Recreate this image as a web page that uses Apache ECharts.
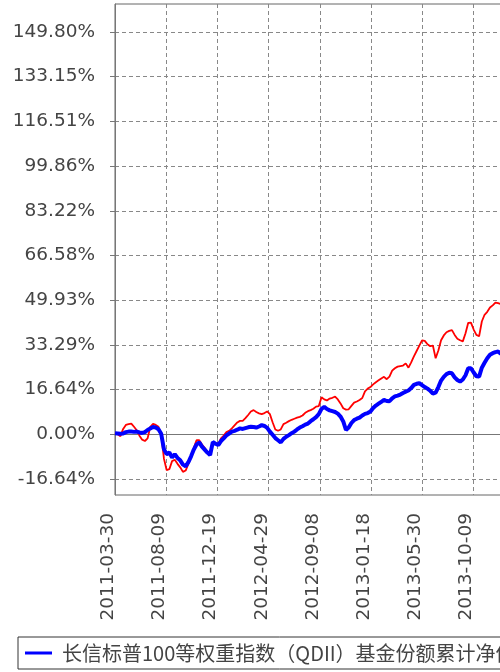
<!DOCTYPE html>
<html>
<head>
<meta charset="utf-8">
<script src="https://cdn.jsdelivr.net/npm/echarts@6/dist/echarts.min.js"></script>
<style>
	html,body{margin:0;padding:0;overflow:hidden;background:#fff;}
	#main{width:540px;height:672px;}
</style>
</head>
<body>
<div id="main"></div>
<script type="text/javascript">
	//日期（每周）
	var dates = [
		"2011-03-30","2011-04-06","2011-04-13","2011-04-20","2011-04-27","2011-05-04","2011-05-11","2011-05-18","2011-05-25","2011-06-01",
		"2011-06-08","2011-06-15","2011-06-22","2011-06-29","2011-07-06","2011-07-13","2011-07-20","2011-07-27","2011-08-03","2011-08-10",
		"2011-08-17","2011-08-24","2011-08-31","2011-09-07","2011-09-14","2011-09-21","2011-09-28","2011-10-05","2011-10-12","2011-10-19",
		"2011-10-26","2011-11-02","2011-11-09","2011-11-16","2011-11-23","2011-11-30","2011-12-07","2011-12-14","2011-12-21","2011-12-28",
		"2012-01-04","2012-01-11","2012-01-18","2012-01-25","2012-02-01","2012-02-08","2012-02-15","2012-02-22","2012-02-29","2012-03-07",
		"2012-03-14","2012-03-21","2012-03-28","2012-04-04","2012-04-11","2012-04-18","2012-04-25","2012-05-02","2012-05-09","2012-05-16",
		"2012-05-23","2012-05-30","2012-06-06","2012-06-13","2012-06-20","2012-06-27","2012-07-04","2012-07-11","2012-07-18","2012-07-25",
		"2012-08-01","2012-08-08","2012-08-15","2012-08-22","2012-08-29","2012-09-05","2012-09-12","2012-09-19","2012-09-26","2012-10-03",
		"2012-10-10","2012-10-17","2012-10-24","2012-10-31","2012-11-07","2012-11-14","2012-11-21","2012-11-28","2012-12-05","2012-12-12",
		"2012-12-19","2012-12-26","2013-01-02","2013-01-09","2013-01-16","2013-01-23","2013-01-30","2013-02-06","2013-02-13","2013-02-20",
		"2013-02-27","2013-03-06","2013-03-13","2013-03-20","2013-03-27","2013-04-03","2013-04-10","2013-04-17","2013-04-24","2013-05-01",
		"2013-05-08","2013-05-15","2013-05-22","2013-05-29","2013-06-05","2013-06-12","2013-06-19","2013-06-26","2013-07-03","2013-07-10",
		"2013-07-17","2013-07-24","2013-07-31","2013-08-07","2013-08-14","2013-08-21","2013-08-28","2013-09-04","2013-09-11","2013-09-18",
		"2013-09-25","2013-10-02","2013-10-09","2013-10-16","2013-10-23","2013-10-30","2013-11-06","2013-11-13","2013-11-20","2013-11-27",
		"2013-12-04","2013-12-11","2013-12-18","2013-12-25","2013-12-31"
	];

	//基金份额累计净值增长率(%)
	var fund = [
		0.4,0.3,0.2,0.3,0.8,1.0,1.0,0.9,1.0,0.7,
		0.5,0.8,1.6,2.2,2.7,2.5,1.9,0.2,-5.5,-7.4,
		-6.8,-8.6,-7.4,-8.8,-9.7,-11.3,-11.9,-10.4,-8.2,-5.7,
		-3.8,-3.0,-4.6,-5.7,-6.8,-7.7,-2.9,-3.5,-4.0,-2.5,
		-1.5,-0.4,0.3,1.0,1.3,1.7,2.2,2.0,2.3,2.6,
		2.8,2.7,2.5,2.9,3.4,3.1,2.4,1.0,-0.2,-1.4,
		-2.2,-3.0,-1.7,-0.9,-0.3,0.4,1.0,1.8,2.5,3.0,
		3.6,4.0,4.9,5.6,6.4,7.5,9.5,10.2,9.4,8.9,
		8.6,8.3,7.7,6.6,4.8,1.6,2.5,4.2,5.3,5.8,
		6.2,7.0,7.6,7.9,8.5,9.8,10.7,11.4,12.1,12.8,
		12.4,12.3,13.4,14.1,14.4,14.8,15.4,15.9,16.3,17.2,
		18.4,18.8,19.0,18.3,17.6,17.0,16.2,15.2,15.5,17.6,
		20.0,21.4,22.4,22.9,22.7,21.2,20.2,19.6,20.4,22.0,
		24.6,24.6,23.0,21.6,21.5,24.8,26.6,28.3,29.6,30.2,
		30.6,30.8,30.0,29.3,29.0
	];

	//同期业绩比较基准收益率(%)
	var bench = [
		0.4,0.0,-0.7,2.0,3.5,3.8,4.0,2.8,1.5,-0.5,
		-2.0,-2.5,-1.5,2.8,3.9,3.5,2.8,0.0,-9.0,-13.3,
		-13.0,-10.0,-9.5,-11.0,-12.3,-14.0,-13.5,-11.0,-8.3,-5.0,
		-2.2,-2.2,-3.8,-5.0,-6.5,-7.3,-3.4,-3.2,-3.6,-1.5,
		-0.5,0.8,1.3,2.2,3.3,4.4,5.0,5.0,6.0,7.2,
		8.5,9.0,8.3,7.8,7.5,7.9,8.5,7.5,4.5,1.8,
		1.3,1.8,3.8,4.3,4.9,5.4,5.8,6.2,6.5,7.0,
		8.0,8.6,9.0,9.5,10.3,10.5,13.8,13.0,12.6,13.3,
		13.6,14.0,13.0,11.5,9.7,9.2,9.3,10.6,11.8,12.2,
		12.8,13.5,16.0,17.0,17.6,18.6,19.4,20.1,20.8,21.4,
		20.5,21.5,23.7,24.6,25.2,25.4,25.6,26.4,24.8,26.8,
		29.0,31.0,33.0,35.0,34.8,33.5,32.8,33.0,28.3,31.2,
		35.0,36.8,38.0,38.5,38.8,37.0,35.6,35.0,34.6,37.6,
		41.5,41.6,39.0,37.0,36.5,42.0,44.5,45.6,47.2,48.0,
		49.0,48.8,48.5,47.3,47.0
	];

	//纵轴刻度(%)
	var yTicks = [-16.644,0,16.644,33.288,49.932,66.576,83.22,99.864,116.508,133.152,149.796];

	var names = ["长信标普100等权重指数（QDII）基金份额累计净值增长率","同期业绩比较基准收益率"];

	var base = Date.parse(dates[0]);
	function fn_day(d){ return Math.round((Date.parse(d) - base) / 864e5); }
	function fn_date(v){ return new Date(base + v * 864e5).toISOString().slice(0,10); }

	var fundData = [], benchData = [];
	dates.forEach(function(d,i){
		fundData.push([fn_day(d), fund[i]]);
		benchData.push([fn_day(d), bench[i]]);
	});

	var myChart = echarts.init(document.getElementById("main"));

	var gridLine = {show:true, lineStyle:{color:"#888", width:1, type:[4,3]}};
	var labelFont = {color:"#444", fontFamily:"DejaVu Sans", fontSize:18.5};

	var option = {
		animation:false,
		grid:{
			left:115, top:4, right:31, bottom:177,
			show:true, borderColor:"#666", borderWidth:1
		},
		legend:{
			left:18, top:637, width:1400,
			padding:[6,8,6,7],
			borderColor:"#333", borderWidth:1,
			icon:"rect", itemWidth:27, itemHeight:3, itemGap:30,
			textStyle:{color:"#444", fontFamily:"Noto Sans CJK SC", fontSize:20, padding:[0,0,0,5]},
			data:[names[0], names[1]]
		},
		xAxis:{
			type:"value",
			min:0, max:1015, interval:132,
			offset:8,
			axisLine:{show:true, lineStyle:{color:"#777"}},
			axisTick:{show:true, length:4, lineStyle:{color:"#777"}},
			axisLabel:Object.assign({
				rotate:90, margin:10, showMaxLabel:false,
				verticalAlign:"bottom", lineHeight:14,
				formatter:function(v){ return fn_date(v); }
			}, labelFont),
			splitLine:gridLine
		},
		yAxis:{
			type:"value",
			min:-22.6, max:160.2,
			offset:7,
			axisLine:{show:true, lineStyle:{color:"#777"}},
			axisTick:{show:true, length:5, customValues:yTicks, lineStyle:{color:"#777"}},
			axisLabel:Object.assign({
				margin:13, customValues:yTicks,
				formatter:function(v){ return v.toFixed(2) + "%"; }
			}, labelFont),
			splitLine:gridLine
		},
		series:[
			{
				name:names[1],
				type:"line",
				symbol:"none",
				z:2,
				lineStyle:{color:"#ff0000", width:1.8},
				itemStyle:{color:"#ff0000"},
				data:benchData
			},
			{
				name:names[0],
				type:"line",
				symbol:"none",
				z:3,
				lineStyle:{color:"#0000ff", width:4},
				itemStyle:{color:"#0000ff"},
				data:fundData
			}
		]
	};

	myChart.setOption(option);
</script>
</body>
</html>
